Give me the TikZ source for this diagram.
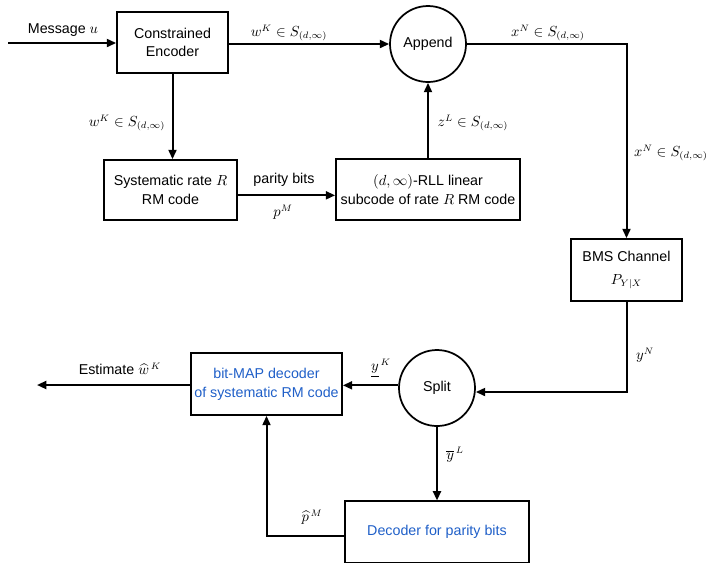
\documentclass[tikz,border=0pt]{standalone}
\usepackage{fontspec}
\setmainfont{Liberation Sans}
\usepackage{amsmath}
\usetikzlibrary{arrows.meta,calc}
\definecolor{decblue}{RGB}{31,95,200}
\tikzset{
  px/.style={x=0.75pt,y=-0.75pt},
  blk/.style={draw,line width=1.3pt,align=center,inner sep=0pt,font=\fontsize{10.7}{14}\selectfont},
  circ/.style={draw,circle,line width=1.3pt,minimum size=57pt,inner sep=0pt,font=\fontsize{10.7}{14}\selectfont},
  conn/.style={line width=1.5pt,-{Triangle[length=7pt,width=6pt]}},
  lbl/.style={inner sep=0pt,font=\fontsize{10.7}{14}\selectfont},
}
\begin{document}
\begin{tikzpicture}[px]
\useasboundingbox (0,0) rectangle (710,562);
\clip (0,0) rectangle (710,562);
% blocks
\node[blk,minimum width=83.25pt,minimum height=45.75pt] (enc) at (172.5,42.5) {Constrained\\Encoder};
\node[circ] (app) at (428,44) {Append};
\node[blk,minimum width=99.75pt,minimum height=45pt] (sys) at (170.5,190) {Systematic rate $R$\\RM code};
\node[blk,minimum width=138pt,minimum height=45.75pt] (rll) at (428,189.5) {$(d,\infty)$-RLL linear\\subcode of rate $R$ RM code};
\node[blk,minimum width=83.25pt,minimum height=46.5pt] (bms) at (626.5,270) {BMS Channel\\[3pt]$P_{Y|X}$};
\node[circ] (split) at (437,388) {Split};
\node[blk,minimum width=113.25pt,minimum height=46.5pt,text=decblue] (map) at (266.5,384) {bit-MAP decoder\\of systematic RM code};
\node[blk,minimum width=138pt,minimum height=46pt,text=decblue] (dec) at (437,532) {Decoder for parity bits};
% free ends
\coordinate (msg) at (8,43);
\coordinate (est) at (37,385);
% connectors
\draw[conn] (msg) -- (enc.west |- msg);
\draw[conn] (enc.east |- app.west) -- (app.west);
\draw[conn] (app.east) -| (bms.north);
\draw[conn] (enc.south) -- (enc.south |- sys.north);
\draw[conn] ([yshift=-4pt]sys.east) -- ([yshift=-4pt]sys.east -| rll.west);
\draw[conn] (rll.north) -- (app.south);
\draw[conn] (bms.south) |- ([yshift=-3pt]split.east);
\draw[conn] ([yshift=2pt]split.west) -- ([yshift=2pt]split.west -| map.east);
\draw[conn] (map.west |- est) -- (est);
\draw[conn] (split.south) -- (split.south |- dec.north);
\draw[conn] ([yshift=-3pt]dec.west) -| (map.south);
% labels
\node[lbl] (lmsg) at (63,30) {Message $u$};
\node[lbl] (lw1) at (289,33) {$w^K\in S_{(d,\infty)}$};
\node[lbl] (lx1) at (548,33) {$x^N\in S_{(d,\infty)}$};
\node[lbl] (lx2) at (671,153) {$x^N\in S_{(d,\infty)}$};
\node[lbl] (lz) at (473,123) {$z^L\in S_{(d,\infty)}$};
\node[lbl] (lw2) at (127,123) {$w^K\in S_{(d,\infty)}$};
\node[lbl] (lpar) at (284,180) {parity bits};
\node[lbl] (lp) at (283,212) {$p^M$};
\node[lbl] (lyn) at (645,355) {$y^N$};
\node[lbl] (lest) at (120,369) {Estimate $\widehat{w}^{\,K}$};
\node[lbl] (lyk) at (381,368) {$\underline{y}^{\,K}$};
\node[lbl] (lyl) at (455,455) {$\overline{y}^{\,L}$};
\node[lbl] (lph) at (312,517) {$\widehat{p}^{\,M}$};
\end{tikzpicture}
\end{document}
